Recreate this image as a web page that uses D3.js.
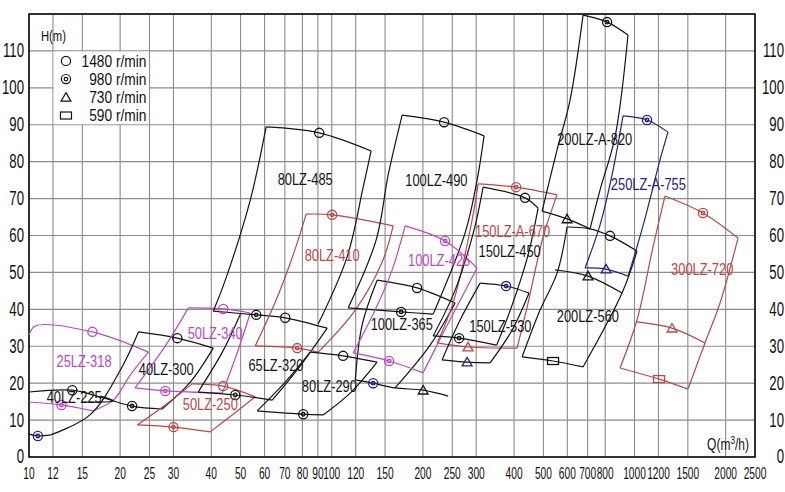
<!DOCTYPE html>
<html><head><meta charset="utf-8">
<script src="https://cdn.jsdelivr.net/npm/d3@7"></script>
<style>
body{margin:0;background:#fff}
svg{display:block}
text{font-family:"Liberation Sans",Arial,sans-serif}
</style>
</head><body>
<svg id="chart" width="785" height="492"></svg>
<script>
// ---------------- DATA ----------------
const xTicks = [10,12,15,20,25,30,40,50,60,70,80,90,100,120,150,200,250,300,400,500,600,700,800,1000,1200,1500,2000,2500];
const yTicks = [0,10,20,30,40,50,60,70,80,90,100,110];
const legendLabels = ["1480 r/min","980 r/min","730 r/min","590 r/min"];

// pump outlines: each entry is a list of edges, each edge a list of [Q (m3/h), H (m)]
const p25LZ318 = [
  [[10,33.0],[10.5,35.5],[16.2,33.9],[24.8,28.4]],
  [[24.8,28.4],[21.6,22.2],[19.0,15.4],[16.2,12.5]],
  [[10,14.9],[12.8,14.1],[16.2,12.5]]
];
const p40LZ225 = [
  [[10,17.6],[13.9,18.1],[17.6,16.0],[21.9,13.8],[27.5,13.0]],
  [[15.1,14.9],[19.0,15.2],[17.2,16.5]],
  [[10,6.2],[10.7,5.7],[11.8,6.0]]
];
const p40LZ300 = [
  [[11.8,6.0],[15.9,11.4],[20.3,24.4],[23.0,33.9]],
  [[23.0,33.9],[30.9,32.2],[40.6,29.5]],
  [[40.6,29.5],[34.1,20.3],[27.5,13.0]]
];
const p50LZ340 = [
  [[33.6,40.4],[43.8,40.1],[53.8,39.0]],
  [[53.8,39.0],[49.1,29.0],[43.5,17.3]],
  [[22.4,18.7],[28.2,17.9],[43.5,17.3]],
  [[22.4,18.7],[28.2,30.1],[33.6,40.4]]
];
const p50LZ250 = [
  [[34.6,19.8],[43.8,19.2],[55.9,16.3]],
  [[55.9,16.3],[46.9,11.4],[39.7,6.8]],
  [[22.8,8.7],[30.0,8.1],[39.7,6.8]],
  [[22.8,8.7],[28.2,14.1],[34.6,19.8]]
];
const p65LZ320 = [
  [[40.6,39.5],[56.3,38.5],[70.2,37.7],[96.6,34.9]],
  [[96.6,34.9],[78.7,24.7],[63.6,15.4]],
  [[36.2,17.6],[48.0,16.8],[63.6,15.4]],
  [[36.2,17.6],[43.5,28.4],[49.9,38.7]]
];
const p80LZ485 = [
  [[60.7,89.4],[90.9,87.8],[134.9,82.9]],
  [[134.9,82.9],[127.0,73.1],[112.4,54.2],[90.2,36.0]],
  [[60.7,89.4],[53.8,69.6],[44.5,47.9],[40.6,39.5]]
];
const p80LZ410 = [
  [[82.3,65.8],[100.3,65.6],[159.5,62.6]],
  [[159.5,62.6],[146.7,52.8],[119.6,39.8],[90.2,28.4]],
  [[55.9,30.1],[76.9,29.5],[90.2,28.4]],
  [[82.3,65.8],[75.1,55.5],[65.5,42.5],[55.9,30.1]]
];
const p80LZ290 = [
  [[84.9,28.4],[109.0,27.4],[141.2,25.7]],
  [[141.2,25.7],[115.0,17.3],[93.7,11.4]],
  [[56.7,12.5],[80.5,11.6],[93.7,11.4]],
  [[56.7,12.5],[70.2,20.3],[84.9,28.4]]
];
const p100LZ490 = [
  [[170.8,92.6],[235.0,90.7],[318.5,87.0]],
  [[318.5,87.0],[302.0,75.0],[275.7,60.7],[216.2,38.7]],
  [[113.3,40.4],[169.5,39.3],[216.2,38.7]],
  [[170.8,92.6],[153.6,76.4],[140.2,58.8],[113.3,40.4]]
];
const p100LZ365 = [
  [[141.2,47.9],[191.3,45.8],[255.5,41.7]],
  [[255.5,41.7],[211.3,30.3],[161.9,18.7]],
  [[119.6,20.9],[137.0,20.0],[161.9,18.7],[200.4,18.1],[242.4,16.5]],
  [[141.2,47.9],[126.0,35.8],[119.6,20.9]]
];
const p100LZ425 = [
  [[174.7,62.6],[236.8,58.5],[302.0,51.2]],
  [[302.0,51.2],[255.5,39.8],[224.5,30.9],[200.4,22.8]],
  [[117.7,28.2],[154.7,26.0],[200.4,22.8]],
  [[174.7,62.6],[158.3,50.7],[139.1,39.8],[117.7,28.2]]
];
const p150LZA670 = [
  [[304.3,74.0],[406.3,73.1],[554.8,71.0]],
  [[554.8,71.0],[498.9,59.6],[445.0,41.7],[409.4,29.5]],
  [[222.8,30.9],[282.0,29.8],[409.4,29.5]],
  [[304.3,74.0],[290.8,64.2],[251.6,41.7],[222.8,30.9]]
];
const p150LZ450 = [
  [[316.1,73.1],[435.0,70.2],[480.2,67.4]],
  [[480.2,67.4],[445.0,54.7],[394.4,41.2],[350.5,30.3]],
  [[216.2,32.8],[263.4,32.2],[350.5,30.3]],
  [[316.1,73.1],[295.2,61.5],[255.5,45.2],[216.2,32.8]]
];
const p150LZ530 = [
  [[309.0,47.1],[376.5,46.3],[448.4,44.4]],
  [[448.4,44.4],[394.4,34.4],[333.4,25.5]],
  [[231.4,26.3],[279.9,25.7],[333.4,25.5]],
  [[231.4,26.3],[265.4,37.1],[309.0,47.1]]
];
const p200LZA820 = [
  [[676.1,119.7],[811.7,117.8],[951.7,114.3]],
  [[951.7,114.3],[862.3,86.7],[769.1,72.3],[713.0,61.8]],
  [[495.1,66.6],[598.6,64.5],[713.0,61.8]],
  [[676.1,119.7],[612.5,96.7],[554.8,83.2],[495.1,66.6]]
];
const p200LZ560 = [
  [[598.6,62.3],[713.0,61.8],[830.2,59.9],[1019,55.8]],
  [[1019,55.8],[909.4,44.4],[676.1,24.4]],
  [[425.3,27.1],[538.1,26.0],[676.1,24.4]],
  [[598.6,62.3],[554.8,49.8],[487.5,39.8],[425.3,27.1]],
  [[546.4,50.7],[702.3,49.0],[909.4,44.4]]
];
const p250LZA755 = [
  [[916.2,92.4],[1100,91.3],[1290,88.0]],
  [[1290,88.0],[1214,80.5],[1091,65.6],[1019,56.9],[951.7,49.0]],
  [[686.5,51.2],[805.4,50.9],[951.7,49.0]],
  [[916.2,92.4],[842.9,76.4],[769.1,62.8],[686.5,51.2]]
];
const p300LZ720 = [
  [[1261,70.7],[1683,66.1],[2197,59.3]],
  [[2197,59.3],[1916,41.7],[1709,30.9],[1502,18.4]],
  [[895.5,24.1],[1205,21.1],[1502,18.4]],
  [[1261,70.7],[1151,56.9],[1019,37.1],[895.5,24.1]],
  [[1019,36.6],[1330,34.9],[1709,30.9]]
];

const pumpNames = ["25LZ-318","40LZ-225","40LZ-300","50LZ-340","50LZ-250","65LZ-320","80LZ-485","80LZ-410","80LZ-290",
  "100LZ-490","100LZ-365","100LZ-425","150LZ-A-670","150LZ-450","150LZ-530","200LZ-A-820","200LZ-560","250LZ-A-755","300LZ-720"];
const pumpEdges = [p25LZ318,p40LZ225,p40LZ300,p50LZ340,p50LZ250,p65LZ320,p80LZ485,p80LZ410,p80LZ290,
  p100LZ490,p100LZ365,p100LZ425,p150LZA670,p150LZ450,p150LZ530,p200LZA820,p200LZ560,p250LZA755,p300LZ720];
const labelQ = [15.2,14.1,28.4,41.2,39.7,65.4,81.7,100.3,98.2,221.6,170.3,226.2,395.6,386.7,360.5,738.7,701.2,1111,1673];
const labelH = [25.8,16.2,23.6,33.6,14.3,24.7,75.3,54.7,19.0,74.8,35.8,53.2,61.2,55.6,35.5,86.1,38.2,73.7,50.7];

// duty points by speed: [pump, Q, H]
const marks1480 = [
  ["25LZ-318",16.2,33.9],["40LZ-225",13.9,18.1],["40LZ-300",30.9,32.2],["50LZ-340",43.8,40.1],
  ["50LZ-250",43.8,19.2],["65LZ-320",70.2,37.7],["80LZ-485",90.9,87.8],["80LZ-290",109.0,27.4],
  ["100LZ-490",235.0,90.7],["100LZ-365",191.3,45.8],["150LZ-450",435.0,70.2],["200LZ-560",830.2,59.9]
];
const marks980 = [
  ["25LZ-318",12.8,14.1],["40LZ-225",10.7,5.7],["40LZ-300",21.9,13.8],["50LZ-340",28.2,17.9],
  ["50LZ-250",30.0,8.1],["65LZ-320",56.3,38.5],["65LZ-320",48.0,16.8],["80LZ-410",100.3,65.6],
  ["80LZ-410",76.9,29.5],["80LZ-290",80.5,11.6],["100LZ-490",169.5,39.3],["100LZ-365",137.0,20.0],
  ["100LZ-425",236.8,58.5],["100LZ-425",154.7,26.0],["150LZ-A-670",406.3,73.1],["150LZ-450",263.4,32.2],
  ["150LZ-530",376.5,46.3],["200LZ-A-820",811.7,117.8],["250LZ-A-755",1100,91.3],["300LZ-720",1683,66.1]
];
const marks730 = [
  ["100LZ-365",200.4,18.1],["150LZ-A-670",282.0,29.8],["150LZ-530",279.9,25.7],["200LZ-A-820",598.6,64.5],
  ["200LZ-560",702.3,49.0],["250LZ-A-755",805.4,50.9],["300LZ-720",1330,34.9]
];
const marks590 = [
  ["200LZ-560",538.1,26.0],["300LZ-720",1205,21.1]
];

// ---------------- STYLE ----------------
const C = {black:"#141414", magenta:"#b84ac4", red:"#b94848", navy:"#24247e"};
const pumpColor = {
  "25LZ-318":C.magenta,"40LZ-225":C.black,"40LZ-300":C.black,"50LZ-340":C.magenta,"50LZ-250":C.red,
  "65LZ-320":C.black,"80LZ-485":C.black,"80LZ-410":C.red,"80LZ-290":C.black,"100LZ-490":C.black,
  "100LZ-365":C.black,"100LZ-425":C.magenta,"150LZ-A-670":C.red,"150LZ-450":C.black,"150LZ-530":C.black,
  "200LZ-A-820":C.black,"200LZ-560":C.black,"250LZ-A-755":C.navy,"300LZ-720":C.red
};
const markColorOverride = {"40LZ-225|980":C.navy,"100LZ-365|980":C.navy,"150LZ-530|980":C.navy,"150LZ-530|730":C.navy};

// ---------------- DRAW ----------------
const svg = d3.select("#chart");
const x = d3.scaleLog().domain([10,2500]).range([29,755]);
const y = d3.scaleLinear().domain([0,120]).range([457,14]);

// grid
const grid = svg.append("g").attr("stroke","#8c8c8c").attr("stroke-width",1.1);
grid.selectAll("line.v").data(xTicks).join("line")
  .attr("x1",d=>x(d)).attr("x2",d=>x(d)).attr("y1",y(0)).attr("y2",y(120));
grid.selectAll("line.h").data(yTicks.concat([120])).join("line")
  .attr("y1",d=>y(d)).attr("y2",d=>y(d)).attr("x1",x(10)).attr("x2",x(2500));

// legend box
const lx0 = x(12), lx1 = x(25), ly0 = y(110), ly1 = y(90);
svg.append("rect").attr("x",lx0+0.6).attr("y",ly0+0.6).attr("width",lx1-lx0-1.2).attr("height",ly1-ly0-1.2).attr("fill","#fff");

// frame
svg.append("rect").attr("x",x(10)).attr("y",y(120)).attr("width",x(2500)-x(10)).attr("height",y(0)-y(120))
  .attr("fill","none").attr("stroke","#000").attr("stroke-width",1.5);

function txt(g, px, py, s, size, anchor, color, sx){
  return g.append("text").attr("transform",`translate(${px},${py}) scale(${sx},1)`)
    .attr("text-anchor",anchor).attr("dominant-baseline","central")
    .attr("font-size",size).attr("fill",color).text(s);
}

// pump outlines
const line = d3.line().x(d=>x(d[0])).y(d=>y(d[1])).curve(d3.curveCatmullRom.alpha(0.5));
const pg = svg.append("g").attr("fill","none").attr("stroke-width",1.2).attr("stroke-linejoin","round");
pumpNames.forEach((name,i)=>{
  pg.selectAll(null).data(pumpEdges[i]).join("path")
    .attr("d",line).attr("stroke",pumpColor[name]);
});

// markers
const mg = svg.append("g").attr("fill","none").attr("stroke-width",1.3);
function markColor(p,s){ return markColorOverride[p+"|"+s] || pumpColor[p]; }
function drawMark(g, type, px, py, color){
  if(type==="1480"){
    g.append("circle").attr("cx",px).attr("cy",py).attr("r",4.6).attr("stroke",color);
  } else if(type==="980"){
    g.append("circle").attr("cx",px).attr("cy",py).attr("r",4.6).attr("stroke",color);
    g.append("circle").attr("cx",px).attr("cy",py).attr("r",1.8).attr("stroke",color);
  } else if(type==="730"){
    g.append("path").attr("transform",`translate(${px},${py+1})`)
      .attr("d",d3.symbol(d3.symbolTriangle,42)()).attr("stroke",color);
  } else {
    g.append("rect").attr("x",px-5.5).attr("y",py-3.5).attr("width",11).attr("height",7).attr("stroke",color);
  }
}
[["1480",marks1480],["980",marks980],["730",marks730],["590",marks590]].forEach(([s,arr])=>{
  arr.forEach(m=>drawMark(mg,s,x(m[1]),y(m[2]),markColor(m[0],s)));
});

// pump labels
const lg = svg.append("g");
pumpNames.forEach((name,i)=>{
  txt(lg, x(labelQ[i]), y(labelH[i]), name, 16.5, "middle", pumpColor[name], 0.78);
});

// legend
const legTypes = ["1480","980","730","590"];
legendLabels.forEach((s,i)=>{
  const py = ly0 + 10 + i*18.2;
  drawMark(svg.append("g").attr("fill","none").attr("stroke-width",1.2), legTypes[i], lx0+13, py, "#111");
  txt(svg, lx1-3, py, s, 16, "end", "#111", 0.86);
});

// axis labels
const ag = svg.append("g");
yTicks.forEach(v=>{
  txt(ag, x(10)-5, y(v), String(v), 20, "end", "#111", 0.66);
  txt(ag, 784, y(v), String(v), 20, "end", "#111", 0.66);
});
xTicks.forEach(v=>{
  txt(ag, x(v), 473, String(v), 17, "middle", "#111", 0.6);
});
txt(ag, x(10)+12, y(114), "H(m)", 15, "start", "#111", 0.75);
const qt = ag.append("text").attr("transform",`translate(${x(2500)-6},${y(3.3)}) scale(0.75,1)`)
  .attr("text-anchor","end").attr("dominant-baseline","central").attr("font-size",16).attr("fill","#111");
qt.append("tspan").text("Q(m");
qt.append("tspan").attr("font-size",11).attr("dy",-5).text("3");
qt.append("tspan").attr("dy",5).text("/h)");
</script>
</body></html>
